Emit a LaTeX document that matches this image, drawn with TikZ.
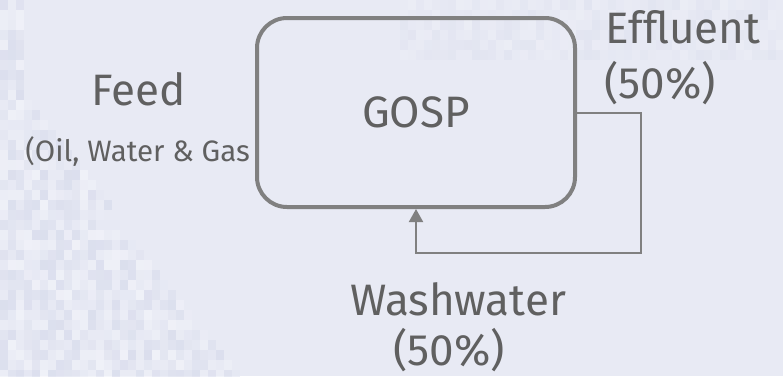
\documentclass[tikz,border=0pt]{standalone}
\usepackage{fontspec}
\setmainfont{Fira Sans}
\usetikzlibrary{arrows.meta}
\definecolor{bgc}{RGB}{232,234,244}
\definecolor{darkpix}{RGB}{214,218,235}
\definecolor{lightpix}{RGB}{243,244,250}
\definecolor{linec}{RGB}{128,128,128}
\definecolor{txtc}{RGB}{96,96,96}
\tikzset{
  bigtext/.style={text=txtc, inner sep=0pt, font=\fontsize{44}{48}\selectfont},
  smalltext/.style={text=txtc, inner sep=0pt, font=\fontsize{29.5}{33}\selectfont},
  unitbox/.style={draw=linec, line width=4pt, rounded corners=30pt, minimum width=318pt, minimum height=189pt, inner sep=0pt, text=txtc, font=\fontsize{44}{48}\selectfont},
  flow/.style={draw=linec, line width=2pt},
}
\begin{document}
\begin{tikzpicture}[x=1pt,y=-1pt]
\useasboundingbox (0,0) rectangle (783,376);
\fill[bgc] (0,0) rectangle (783,376);
% pixelated background texture
\pgfmathsetseed{7}
\foreach \i in {0,...,30}{
  \foreach \j in {0,...,37}{
    \pgfmathsetmacro{\px}{\i*8}
    \pgfmathsetmacro{\py}{\j*10}
    \pgfmathsetmacro{\lim}{max(0,(\py-60)*0.75)}
    \pgfmathsetmacro{\r}{rnd}
    \pgfmathparse{(\px < \lim || \px < 24) ? 1 : 0}
    \ifnum\pgfmathresult=1
      \pgfmathsetmacro{\mix}{int(\r*100)}
      \fill[darkpix!\mix!lightpix, opacity=0.7] (\px,\py) rectangle ++(8,10);
    \fi
  }
}
\foreach \i in {50,...,97}{
  \foreach \j in {0,...,5}{
    \pgfmathsetmacro{\px}{\i*8}
    \pgfmathsetmacro{\py}{\j*10}
    \pgfmathsetmacro{\mix}{int(rnd*100)}
    \fill[darkpix!\mix!lightpix, opacity=0.3] (\px,\py) rectangle ++(8,10);
  }
}
\node[unitbox] (gosp) at (416,112.5) {GOSP};
\node[bigtext] (feed) at (139,89) {Feed};
\node[smalltext, anchor=east] (feedsub) at (250,151) {(Oil, Water \& Gas};
\node[bigtext] (eff) at (683,27) {Effluent};
\node[bigtext] (effp) at (660,83) {(50\%)};
\node[bigtext] (wash) at (458,299) {Washwater};
\node[bigtext] (washp) at (449,350) {(50\%)};
\coordinate (loop) at (641,253);
\draw[flow, -{Triangle[width=14pt,length=13pt]}] (gosp.east) -| (loop) -| (gosp.south);
\end{tikzpicture}
\end{document}
